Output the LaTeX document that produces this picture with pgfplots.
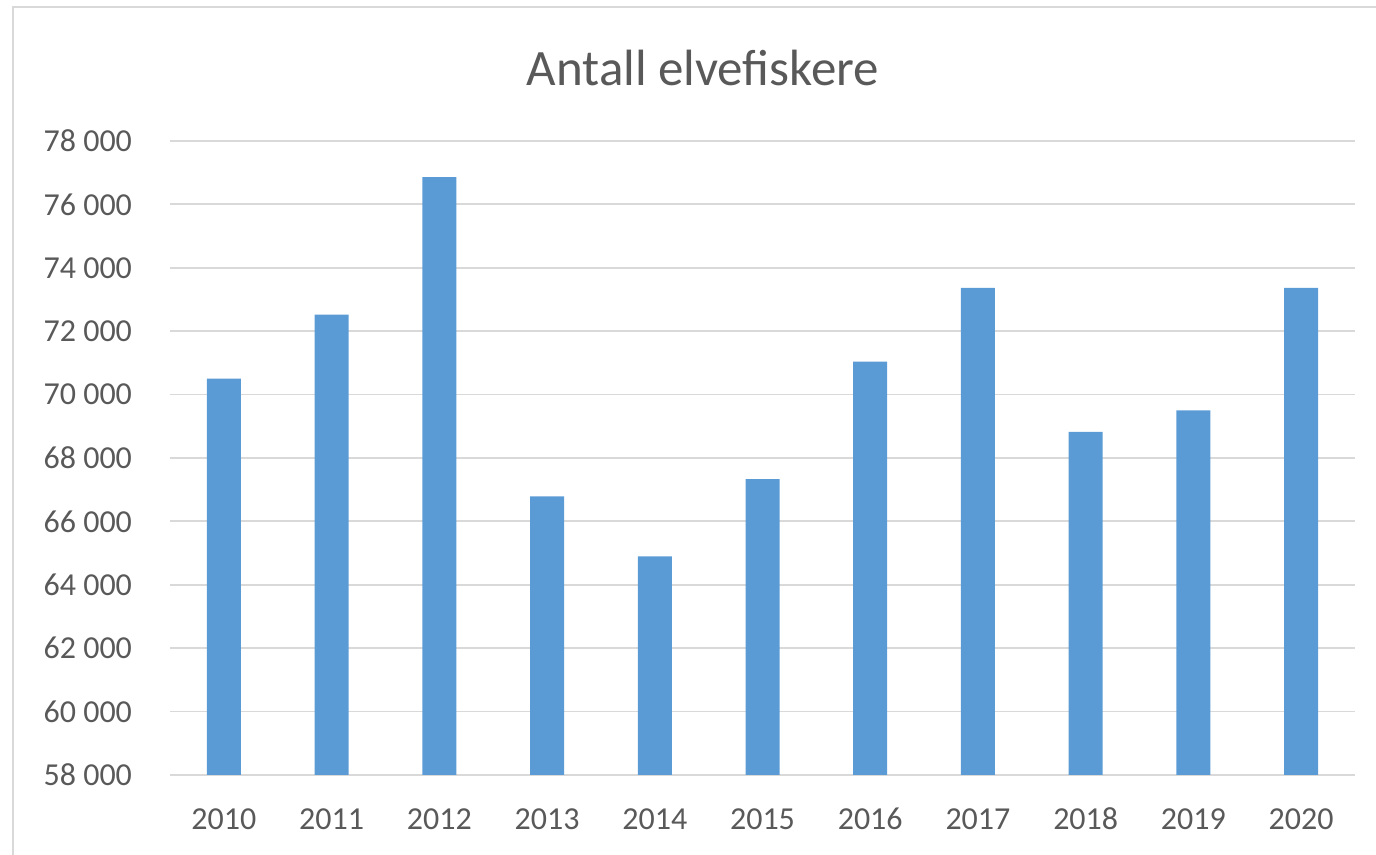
\documentclass[border=0pt]{standalone}
\usepackage{pgfplots}
\pgfplotsset{compat=1.18}
\usepackage{fontspec}
\setmainfont{Carlito}
\definecolor{barblue}{HTML}{5B9BD5}
\definecolor{txtgray}{HTML}{595959}
\definecolor{gridgray}{HTML}{D9D9D9}
\begin{document}
\begin{tikzpicture}
\useasboundingbox (-85pt,-40pt) rectangle (603pt,387.5pt);
\draw[gridgray, line width=1pt] (-78.5pt,-80pt) rectangle (640pt,384pt);
\node[text=txtgray, font=\fontsize{25.5}{30}\selectfont] at (266.5pt,353.5pt) {Antall elvefiskere};
\begin{axis}[
  at={(0,0)}, anchor=south west,
  scale only axis, width=592.5pt, height=317pt,
  xmin=-0.5, xmax=10.5, ymin=58000, ymax=78000,
  ytick={58000,60000,...,78000},
  scaled y ticks=false,
  xtick={0,...,10},
  xticklabels={2010,2011,2012,2013,2014,2015,2016,2017,2018,2019,2020},
  ymajorgrids, grid style={gridgray, line width=0.9pt},
  axis x line*=bottom, axis y line*=left,
  x axis line style={gridgray, line width=0.9pt, -},
  y axis line style={draw=none},
  major tick length=0pt,
  tick style={draw=none},
  ticklabel style={text=txtgray, font=\fontsize{16}{19}\selectfont},
  yticklabel style={xshift=-15.5pt, /pgf/number format/.cd, fixed, precision=0, 1000 sep={\ }},
  xticklabel style={anchor=base, yshift=-27.5pt},
  /pgf/number format/assume math mode=true,
]
\addplot[ybar, bar width=17pt, fill=barblue, draw=none, bar shift=0pt] coordinates {
(0,70505) (1,72524) (2,76864) (3,66790) (4,64900) (5,67330) (6,71040) (7,73366) (8,68820) (9,69505) (10,73366)
};
\end{axis}
\end{tikzpicture}
\end{document}
